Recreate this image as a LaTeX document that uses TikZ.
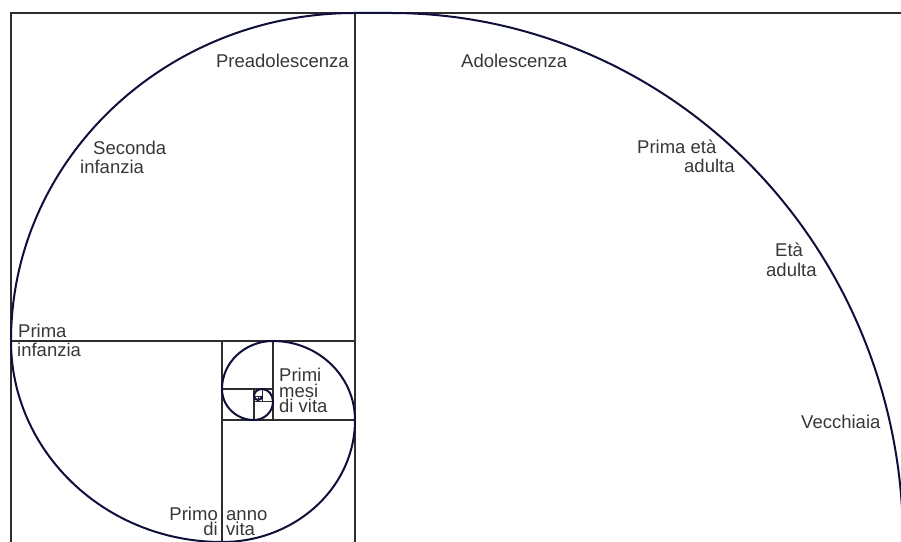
\documentclass[tikz,border=0pt]{standalone}
\usepackage{fontspec}
\setmainfont{Liberation Sans}
\definecolor{framec}{RGB}{45,45,45}
\definecolor{spiralc}{RGB}{15,15,60}
\definecolor{textc}{RGB}{55,55,55}

\begin{document}
\begin{tikzpicture}[x=1pt, y=1pt,
  every node/.style={font=\fontsize{18.5}{20}\selectfont, text=textc, inner sep=0pt},
  frame/.style={draw=framec, line width=1.5pt},
  spiral/.style={draw=spiralc, line width=2pt}]
  \useasboundingbox (0,0) rectangle (901,541);
  \clip (0,0) rectangle (901,541);
  % squares
  \draw[frame] (11,-10) -- (11,528) -- (910,528);
  \draw[frame] (355,-10) -- (355,528);
  \draw[frame] (11,200) -- (355,200);
  \draw[frame] (222,-10) -- (222,200);
  \draw[frame] (222,121) -- (355,121);
  \draw[frame] (273,121) -- (273,200);
  \draw[frame] (222,152) -- (273,152);
  \draw[frame] (254,121) -- (254,152);
  \draw[frame, line width=1pt] (254,139.4) -- (273,139.4) (262,139.4) -- (262,152)
    (254,145) -- (262,145) (258,139.4) -- (258,145);
  % spiral, outer turn first
  \draw[spiral] (391,0) ++(-5:512 and 528)
    arc[start angle=-5, delta angle=95, x radius=512, y radius=528] -- (355,528)
    arc[start angle=90, delta angle=90, x radius=344, y radius=328]
    arc[start angle=180, delta angle=90, x radius=211, y radius=201]
    arc[start angle=270, delta angle=90, x radius=133, y radius=122]
    arc[start angle=0, delta angle=90, x radius=82, y radius=79]
    arc[start angle=90, delta angle=90, x radius=51, y radius=48]
    arc[start angle=180, delta angle=90, x radius=32, y radius=31]
    arc[start angle=270, delta angle=90, x radius=19, y radius=18.4]
    arc[start angle=0, delta angle=90, x radius=11, y radius=12.6]
    arc[start angle=90, delta angle=90, x radius=8, y radius=7]
    arc[start angle=180, delta angle=90, x radius=4, y radius=4]
    arc[start angle=270, delta angle=90, x radius=4, y radius=4];
  % ages
  \node[anchor=base east] (preadol) at (349,473) {Preadolescenza};
  \node[anchor=base west] (adol) at (461,473) {Adolescenza};
  \node[anchor=base west] (seconda) at (93,386) {Seconda};
  \node[anchor=base west] (infanzia2) at (80,367) {infanzia};
  \node[anchor=base west] (primaeta) at (637,387) {Prima età};
  \node[anchor=base west] (adulta1) at (684,368) {adulta};
  \node[anchor=base west] (eta) at (775,284) {Età};
  \node[anchor=base west] (adulta2) at (766,264) {adulta};
  \node[anchor=base west] (prima) at (18,204) {Prima};
  \node[anchor=base west] (infanzia1) at (17,185) {infanzia};
  \node[anchor=base west] (primi) at (279,160) {Primi};
  \node[anchor=base west] (mesi) at (279,144) {mesi};
  \node[anchor=base west] (divita1) at (279,129) {di vita};
  \node[anchor=base east] (primo) at (218,21) {Primo};
  \node[anchor=base east] (di) at (218,6) {di};
  \node[anchor=base west] (anno) at (226,21) {anno};
  \node[anchor=base west] (vita) at (226,6) {vita};
  \node[anchor=base west] (vecchiaia) at (801,113) {Vecchiaia};
\end{tikzpicture}
\end{document}
